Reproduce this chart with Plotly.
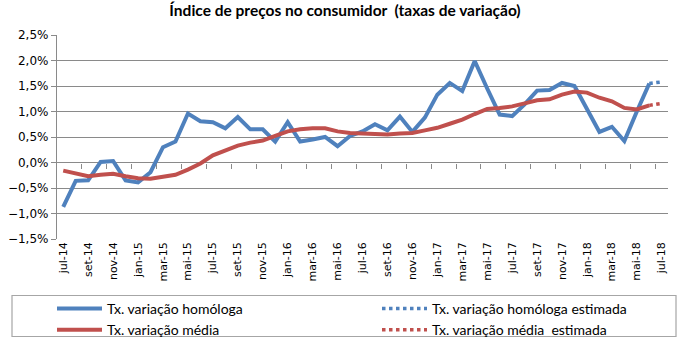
import plotly.graph_objects as go

meses = ["jan", "fev", "mar", "abr", "mai", "jun", "jul", "ago", "set", "out", "nov", "dez"]
categorias = []
for ano in range(2014, 2019):
    for m in range(12):
        if (ano == 2014 and m < 6) or (ano == 2018 and m > 6):
            continue
        categorias.append(f"{meses[m]}-{str(ano)[2:]}")

homologa = [-0.87, -0.36, -0.35, 0.01, 0.03, -0.35, -0.39, -0.19, 0.30, 0.41,
            0.96, 0.81, 0.79, 0.67, 0.89, 0.65, 0.65, 0.41, 0.79, 0.41,
            0.45, 0.50, 0.32, 0.52, 0.61, 0.75, 0.63, 0.90, 0.60, 0.88,
            1.33, 1.56, 1.40, 1.99, 1.45, 0.94, 0.91, 1.14, 1.41, 1.42,
            1.56, 1.50, 1.05, 0.60, 0.70, 0.42, 1.00, 1.55]
media = [-0.16, -0.22, -0.27, -0.24, -0.22, -0.27, -0.31, -0.32, -0.28, -0.24,
         -0.14, -0.02, 0.14, 0.24, 0.33, 0.39, 0.43, 0.52, 0.61, 0.65,
         0.67, 0.67, 0.61, 0.58, 0.57, 0.56, 0.55, 0.57, 0.58, 0.63,
         0.68, 0.76, 0.84, 0.95, 1.05, 1.07, 1.10, 1.16, 1.22, 1.24,
         1.33, 1.39, 1.37, 1.27, 1.20, 1.07, 1.04, 1.12]
homologa_est = [1.55, 1.58]
media_est = [1.12, 1.16]
x_est = categorias[-2:]
tick_labels = categorias[::2]

AZUL = "#4F81BD"
VERM = "#C0504D"
GRID = "#8A8A8A"

fig = go.Figure()
fig.add_trace(go.Scatter(x=categorias[:len(homologa)], y=homologa, mode="lines",
                         name="Tx. variação homóloga", line=dict(color=AZUL, width=4),
                         legend="legend"))
fig.add_trace(go.Scatter(x=categorias[:len(media)], y=media, mode="lines",
                         name="Tx. variação média", line=dict(color=VERM, width=4),
                         legend="legend"))
fig.add_trace(go.Scatter(x=x_est, y=homologa_est, mode="lines",
                         name="Tx. variação homóloga estimada",
                         line=dict(color=AZUL, width=3.5, dash="dot"), legend="legend2"))
fig.add_trace(go.Scatter(x=x_est, y=media_est, mode="lines",
                         name="Tx. variação média  estimada",
                         line=dict(color=VERM, width=3.5, dash="dot"), legend="legend2"))
# helper trace so the tick axis at zero is drawn
fig.add_trace(go.Scatter(x=[None], y=[None], xaxis="x2", yaxis="y", showlegend=False, hoverinfo="skip"))

n = len(categorias)
L, R, T, B = 57, 12, 35, 106
pw = 680 - L - R
ph = 345 - T - B

leg_common = dict(orientation="v", xanchor="left", yanchor="top", itemwidth=45,
                  font=dict(family="Lato", size=14, color="#000000"),
                  bgcolor="rgba(0,0,0,0)", borderwidth=0, traceorder="normal",
                  tracegroupgap=0)

fig.update_layout(
    width=680, height=345,
    margin=dict(l=L, r=R, t=T, b=B, autoexpand=False),
    paper_bgcolor="white", plot_bgcolor="white",
    separators=",.",
    title=dict(text="<b>Índice de preços no consumidor  (taxas de variação)</b>",
               x=345 / 680, xanchor="center", y=1 - 11 / 345, yanchor="middle",
               font=dict(family="Lato", size=15.5, color="#000000")),
    xaxis=dict(type="category", categoryorder="array", categoryarray=categorias,
               range=[-0.5, n - 0.5], tickvals=tick_labels, ticktext=tick_labels,
               tickangle=-90, showgrid=False, zeroline=False, showline=False, ticks="",
               tickfont=dict(family="DejaVu Sans", size=11, color="#000000")),
    xaxis2=dict(overlaying="x", anchor="free", position=0.375, range=[-0.5, n - 0.5],
                tickvals=[i + 0.5 for i in range(1, n - 1, 2)], ticks="outside", ticklen=5,
                tickcolor=GRID, tickwidth=1.3, showticklabels=False, showgrid=False,
                zeroline=False, showline=False),
    yaxis=dict(range=[-1.5, 2.5], dtick=0.5, tick0=0, tickformat=".1f", ticksuffix="%",
               showgrid=True, gridcolor=GRID, gridwidth=1.3, zeroline=True,
               zerolinecolor=GRID, zerolinewidth=1.3, showline=True, linecolor=GRID,
               linewidth=1.3, ticks="outside", ticklen=5, tickcolor=GRID,
               tickfont=dict(family="DejaVu Sans", size=12, color="#000000")),
    showlegend=True,
    legend=dict(x=(52 - L) / pw, y=-(293 - 239) / ph, **leg_common),
    legend2=dict(x=(377 - L) / pw, y=-(293 - 239) / ph, **leg_common),
    shapes=[dict(type="rect", xref="paper", yref="paper",
                 x0=(12 - L) / pw, x1=(676 - L) / pw,
                 y0=-(336.5 - 239) / ph, y1=-(295.5 - 239) / ph,
                 line=dict(color="#A6A6A6", width=1.2), fillcolor="rgba(0,0,0,0)")],
)

fig.write_html("out.html")
